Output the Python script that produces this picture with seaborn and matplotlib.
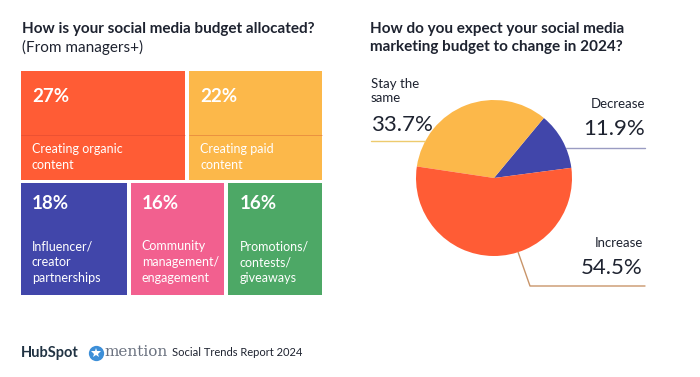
import matplotlib
matplotlib.use("Agg")
import matplotlib.pyplot as plt
import matplotlib.patches as mpatches
import numpy as np
import seaborn as sns

# treemap data (budget allocation)
alloc_pct = [27, 22, 18, 16, 16]
alloc_labels = ["Creating organic\ncontent", "Creating paid\ncontent",
                "Influencer/\ncreator\npartnerships",
                "Community\nmanagement/\nengagement",
                "Promotions/\ncontests/\ngiveaways"]
alloc_rows = [[0, 1], [2, 3, 4]]

# pie data (budget change 2024)
change_labels = ["Decrease", "Stay the\nsame", "Increase"]
change_pct = [11.9, 33.7, 54.5]

orange = "#FF5C35"
yellow = "#FCB84A"
blue = "#4146AA"
pink = "#F2608F"
green = "#4DA866"
alloc_colors = [orange, yellow, blue, pink, green]
change_colors = [blue, yellow, orange]

sns.set_theme(style="white")
plt.rcParams["font.family"] = ["Lato", "DejaVu Sans"]

W, H = 700, 377
fig = plt.figure(figsize=(7, 3.77), dpi=100)
fig.patch.set_facecolor("white")


def fx(x):
    return x / W


def fy(y):
    return 1 - y / H


dark = "#1E2330"

# ---- titles
fig.text(fx(22), fy(29), "How is your social media budget allocated?",
         fontsize=11, fontweight="bold", color=dark, va="center")
fig.text(fx(22), fy(47), "(From managers+)", fontsize=11, color=dark, va="center")
fig.text(fx(370), fy(29), "How do you expect your social media",
         fontsize=11, fontweight="bold", color=dark, va="center")
fig.text(fx(370), fy(47), "marketing budget to change in 2024?",
         fontsize=11, fontweight="bold", color=dark, va="center")

# ---- treemap (rows, widths proportional to values)
tm_left, tm_top, tm_w, tm_h = 21, 71, 305, 227
ax_tm = fig.add_axes([fx(tm_left), fy(tm_top + tm_h), tm_w / W, tm_h / H])
ax_tm.set_xlim(0, tm_w)
ax_tm.set_ylim(tm_h, 0)
ax_tm.axis("off")

gap_x, gap_y = 4, 3
total = sum(alloc_pct)
pct_off = [26, 20]
lab_off = [72, 57]
y0 = 0
for r, row in enumerate(alloc_rows):
    row_sum = sum(alloc_pct[i] for i in row)
    rh = tm_h * row_sum / total
    x0 = 0
    for i in row:
        bw = tm_w * alloc_pct[i] / row_sum
        ax_tm.add_patch(mpatches.Rectangle((x0, y0), bw - gap_x, rh - gap_y,
                                           facecolor=alloc_colors[i], edgecolor="none"))
        if r == 0:
            ax_tm.plot([x0, x0 + bw - gap_x], [y0 + 64, y0 + 64],
                       color="#c0392b", lw=0.6, alpha=0.35)
        ax_tm.text(x0 + 11, y0 + pct_off[r], f"{alloc_pct[i]}%", color="white",
                   fontsize=13.5, fontweight="bold", va="center", ha="left")
        ax_tm.text(x0 + 11, y0 + lab_off[r], alloc_labels[i], color="white",
                   fontsize=9, va="top", ha="left", linespacing=1.4)
        x0 += bw
    y0 += rh

# ---- pie
cx, cy, rad = 494, 178, 78
ax_pie = fig.add_axes([fx(cx - rad), fy(cy + rad), 2 * rad / W, 2 * rad / H])
wedges, _ = ax_pie.pie(change_pct, colors=change_colors, startangle=7.5,
                       counterclock=True, wedgeprops=dict(linewidth=0))
ax_pie.set_xlim(-1, 1)
ax_pie.set_ylim(-1, 1)
ax_pie.set_aspect("equal")
ax_pie.axis("off")


def edge_px(deg):
    t = np.deg2rad(deg)
    return cx + rad * np.cos(t), cy - rad * np.sin(t)


line_cols = ["#9A9CC2", "#EDCB6E", "#C9956A"]
# Decrease
ex, ey = edge_px(22.6)
fig.add_artist(plt.Line2D([fx(ex), fx(645)], [fy(ey), fy(ey)], color=line_cols[0], lw=1))
fig.text(fx(645), fy(104), change_labels[0], fontsize=9.5, color=dark, ha="right", va="center")
fig.text(fx(645), fy(129), f"{change_pct[0]}%", fontsize=16, color=dark, ha="right", va="center")
# Stay the same
ex, ey = edge_px(151.6)
fig.add_artist(plt.Line2D([fx(371), fx(ex)], [fy(ey), fy(ey)], color=line_cols[1], lw=1))
fig.text(fx(371), fy(91), change_labels[1], fontsize=9.5, color=dark, ha="left", va="center",
         linespacing=1.2)
fig.text(fx(371), fy(125), f"{change_pct[1]}%", fontsize=16, color=dark, ha="left", va="center")
# Increase
ex, ey = edge_px(-72)
fig.add_artist(plt.Line2D([fx(ex), fx(530), fx(645)], [fy(ey), fy(286), fy(286)],
                          color=line_cols[2], lw=1))
fig.text(fx(643), fy(243), change_labels[2], fontsize=9.5, color=dark, ha="right", va="center")
fig.text(fx(643), fy(268), f"{change_pct[2]}%", fontsize=16, color=dark, ha="right", va="center")

# ---- footer
fig.text(fx(21), fy(353), "HubSpot", fontsize=10.5, fontweight="bold", color="#213343",
         va="center")
fig.add_artist(plt.Line2D([fx(96)], [fy(353)], marker="o", markersize=11,
                          color="#3D8FD8", markeredgewidth=0))
fig.add_artist(plt.Line2D([fx(96)], [fy(353)], marker="*", markersize=7,
                          color="white", markeredgewidth=0))
fig.text(fx(104), fy(352), "mention", fontsize=11, family=["DejaVu Serif"], color="#6B7280",
         va="center")
fig.text(fx(172), fy(353), "Social Trends Report 2024", fontsize=8, color=dark,
         va="center")

fig.savefig("out.png", dpi=100, facecolor="white")
